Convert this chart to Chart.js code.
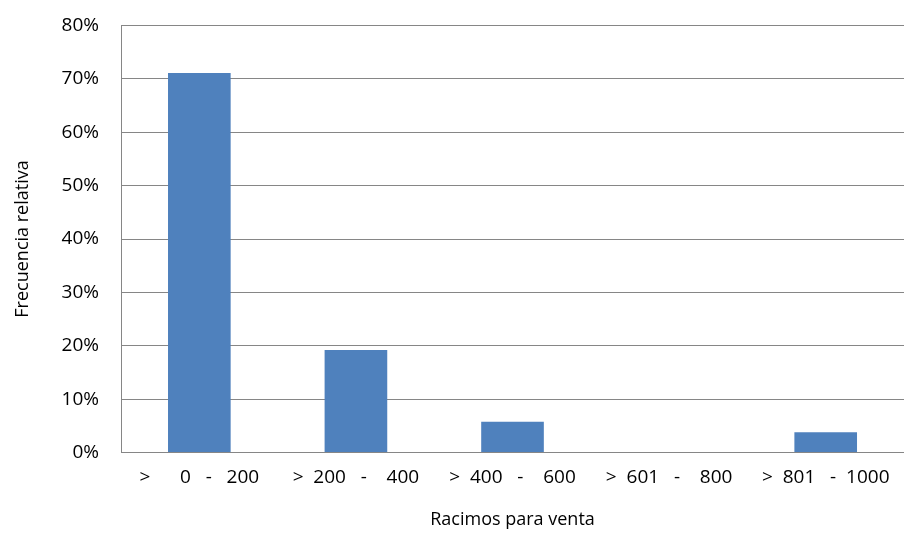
<!DOCTYPE html>
<html>
<head>
<meta charset="utf-8">
<script src="https://cdn.jsdelivr.net/npm/chart.js@4"></script>
<style>
  html, body { margin: 0; padding: 0; background: #fff; overflow: hidden; }
  #wrap { width: 904px; height: 543px; margin-top: -8px; }
</style>
</head>
<body>
<div id="wrap"><canvas id="chart"></canvas></div>
<script>
var categories = [">      0   -   200", ">  200   -    400", ">  400   -    600", ">  601   -    800", ">  801   -  1000"]
var frecuencia = [71.1, 19.2, 5.8, 0, 3.8]

Chart.defaults.font.family = "'Open Sans', 'Liberation Sans', sans-serif"
Chart.defaults.color = "#000"

new Chart(document.getElementById("chart"), {
  type: "bar",
  data: {
    labels: categories,
    datasets: [{
      data: frecuencia,
      backgroundColor: "#4f81bd",
      categoryPercentage: 1,
      barPercentage: 0.4
    }]
  },
  options: {
    responsive: true,
    maintainAspectRatio: false,
    animation: false,
    layout: { padding: { top: 0, right: 0, left: 8, bottom: 4 } },
    plugins: { legend: { display: false }, tooltip: { enabled: false } },
    scales: {
      x: {
        grid: { display: false, drawTicks: false },
        border: { color: "#868686" },
        ticks: { font: { size: 19 }, maxRotation: 0, autoSkip: false, padding: 14 },
        title: { display: true, text: "Racimos para venta", font: { size: 18 }, padding: { top: 6, bottom: 0 } }
      },
      y: {
        min: 0,
        max: 80,
        ticks: { stepSize: 10, font: { size: 19 }, callback: v => v + "%", padding: 22 },
        grid: { color: "#868686", drawTicks: false },
        border: { color: "#868686" },
        title: { display: true, text: "Frecuencia relativa", font: { size: 18 }, padding: { bottom: 6 } }
      }
    }
  }
})
</script>
</body>
</html>
